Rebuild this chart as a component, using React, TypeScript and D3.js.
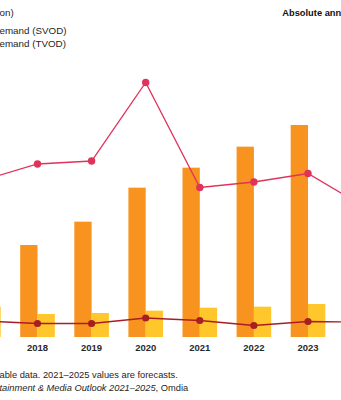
import React from "react";
import * as d3 from "d3";

const years = [2017, 2018, 2019, 2020, 2021, 2022, 2023, 2024];
const yearLabels = ["2018", "2019", "2020", "2021", "2022", "2023"];
// Revenue (bars)
const svod: (number | null)[] = [null, 1380, 1730, 2240, 2540, 2855, 3180, null];
const tvod: (number | null)[] = [455, 345, 360, 395, 440, 455, 495, null];
// Absolute annual growth (lines)
const svodGrowth = [314, 346, 352, 509, 299, 310, 327, 263];
const tvodGrowth = [32, 27, 27, 38, 33, 23, 31, 30];

const legendLines = ["on)", "emand (SVOD)", "emand (TVOD)"];
const rightTitle = "Absolute ann";
const note = "able data. 2021–2025 values are forecasts.";
const sourceItalic = "tainment & Media Outlook 2021–2025";
const sourceRest = ", Omdia";

const W = 341;
const H = 400;
const FONT = "'Liberation Sans', Arial, sans-serif";

export default function App() {
  React.useEffect(() => {
    document.body.style.margin = "0";
  }, []);

  const x = d3
    .scalePoint<number>()
    .domain(years)
    .range([-16.6, -16.6 + 7 * 54.1]);
  const barW = 17.3;
  const y = d3.scaleLinear().domain([0, 4000]).range([337, 337 - 4000 / 15]);
  const yg = d3.scaleLinear().domain([0, 4000 / 7.5]).range([337, 337 - 4000 / 15]);

  const lineGen = d3
    .line<number>()
    .x((_, i) => x(years[i]) as number)
    .y((d) => yg(d));

  return (
    <svg width={W} height={H} style={{ display: "block", background: "#fff" }} fontFamily={FONT}>
      {/* legend fragments */}
      {legendLines.map((t, i) => (
        <text key={t} x={-0.5} y={[15.8, 33.8, 47][i]} fontSize={9.8} fill="#1e1e1e">
          {t}
        </text>
      ))}
      <text x={282.3} y={16.3} fontSize={9.3} fontWeight="bold" fill="#111">
        {rightTitle}
      </text>

      {/* bars */}
      {years.map((yr, i) =>
        svod[i] != null ? (
          <rect
            key={"s" + yr}
            x={(x(yr) as number) - barW}
            y={y(svod[i] as number)}
            width={barW}
            height={y(0) - y(svod[i] as number)}
            fill="#F7931E"
          />
        ) : null
      )}
      {years.map((yr, i) =>
        tvod[i] != null ? (
          <rect
            key={"t" + yr}
            x={x(yr) as number}
            y={y(tvod[i] as number)}
            width={barW}
            height={y(0) - y(tvod[i] as number)}
            fill="#FFC72C"
          />
        ) : null
      )}

      {/* growth lines */}
      <path d={lineGen(svodGrowth) || ""} fill="none" stroke="#E0325A" strokeWidth={1.3} />
      {svodGrowth.map((d, i) => (
        <circle key={"gs" + i} cx={x(years[i]) as number} cy={yg(d)} r={3.7} fill="#E0325A" />
      ))}
      <path d={lineGen(tvodGrowth) || ""} fill="none" stroke="#A81E24" strokeWidth={1.3} />
      {tvodGrowth.map((d, i) => (
        <circle key={"gt" + i} cx={x(years[i]) as number} cy={yg(d)} r={3.6} fill="#A81E24" />
      ))}

      {/* x labels */}
      {yearLabels.map((l) => (
        <text
          key={l}
          x={x(+l) as number}
          y={350.7}
          textAnchor="middle"
          fontSize={9.5}
          fontWeight="bold"
          fill="#2a2a2a"
        >
          {l}
        </text>
      ))}

      {/* footer */}
      <text x={-0.5} y={377.5} fontSize={9.3} fill="#1e1e1e">
        {note}
      </text>
      <text x={-0.5} y={390.5} fontSize={9.3} fill="#1e1e1e">
        <tspan fontStyle="italic">{sourceItalic}</tspan>
        <tspan>{sourceRest}</tspan>
      </text>
    </svg>
  );
}
